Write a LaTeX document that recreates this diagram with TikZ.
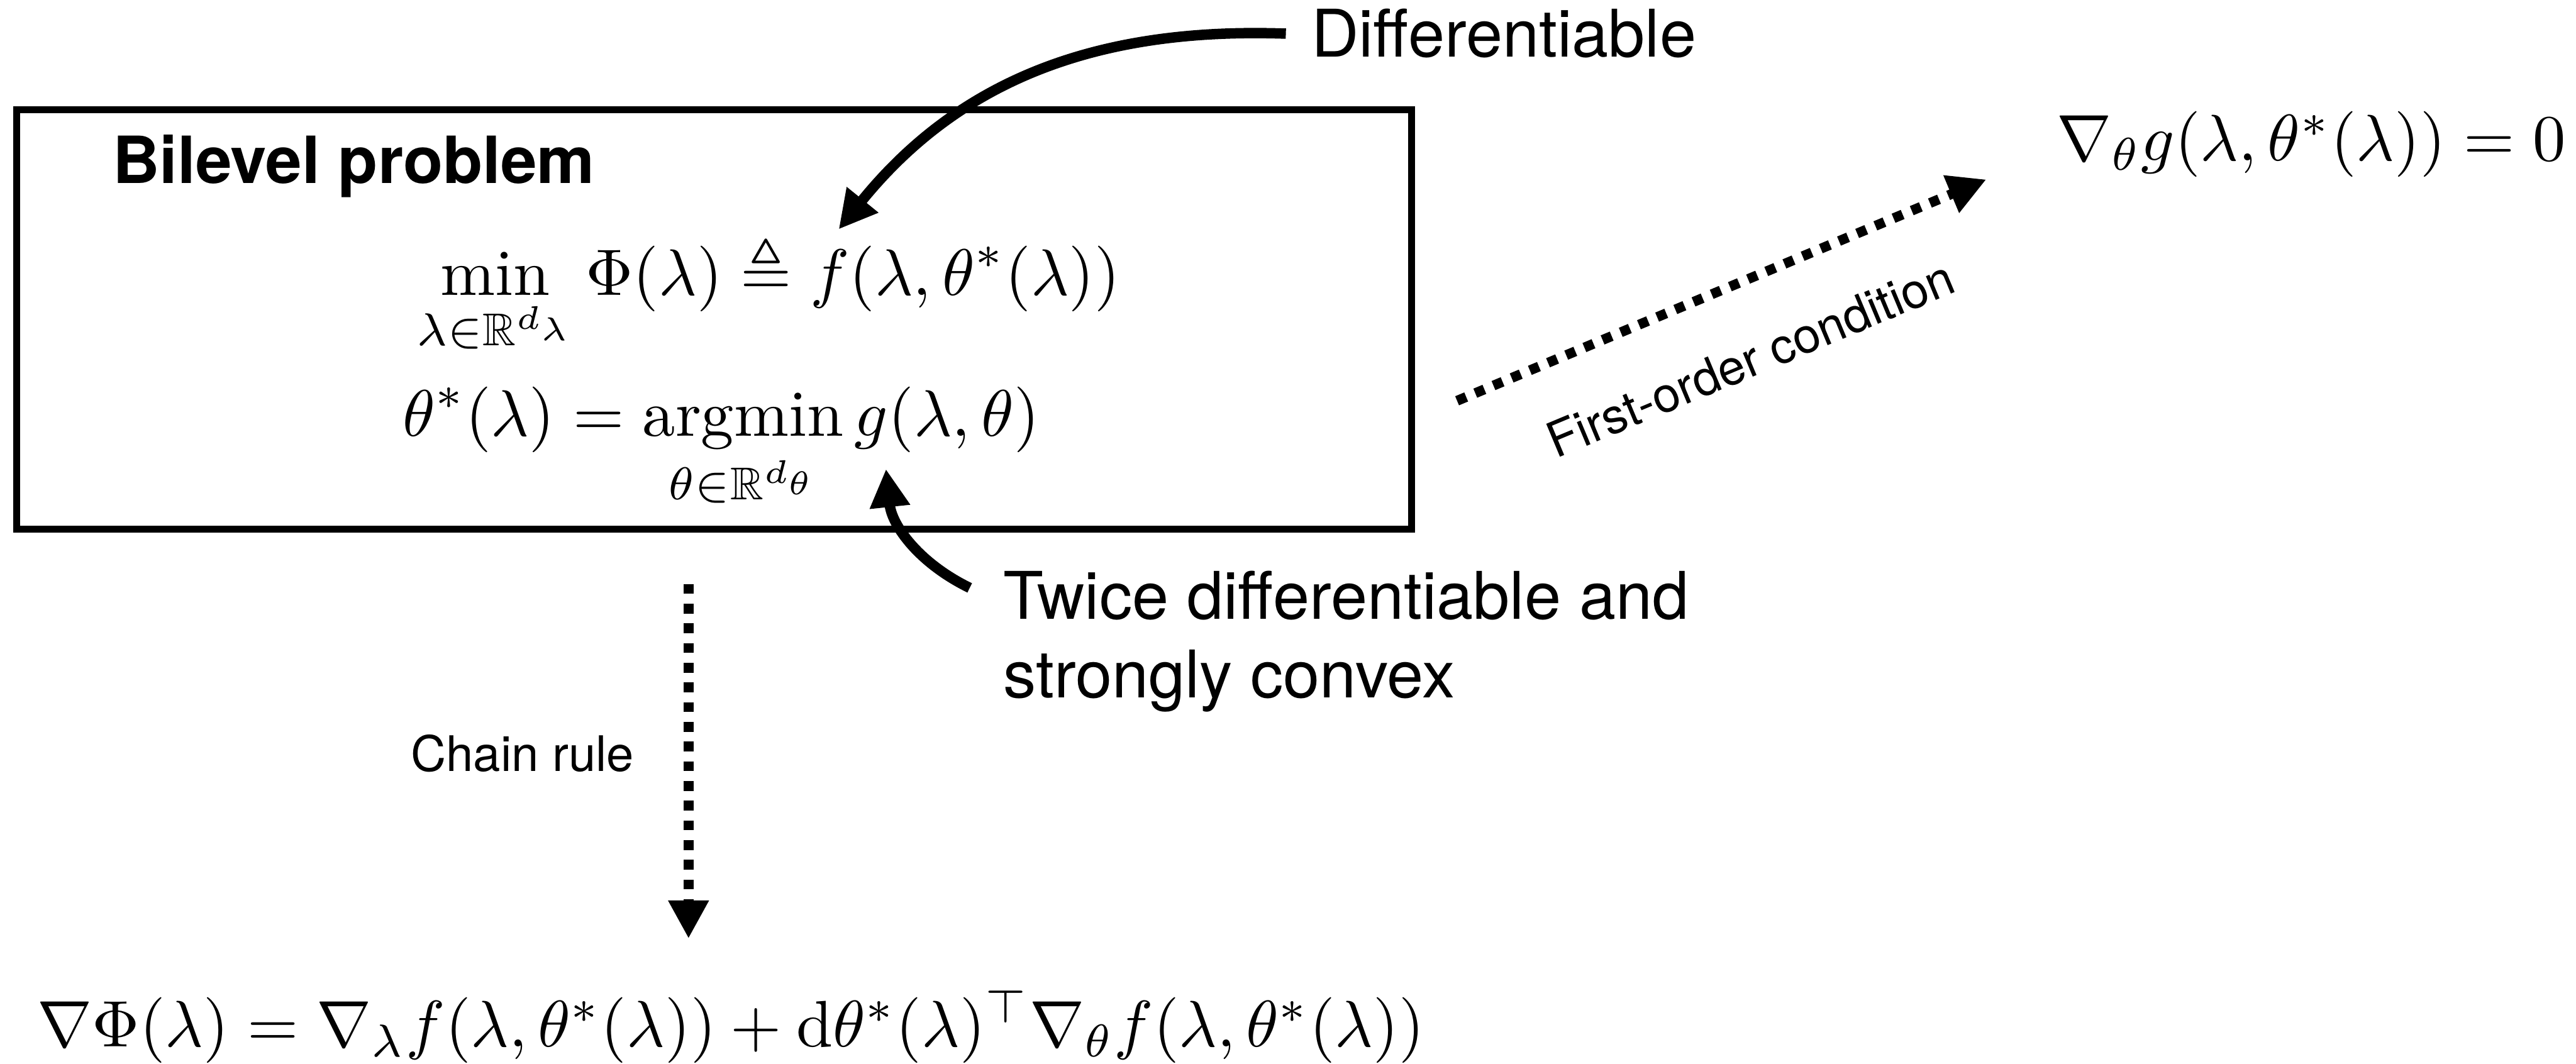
\documentclass[tikz,border=0pt]{standalone}
\usepackage{amsmath,amssymb}
\usepackage{fontspec}
\setsansfont{TeX Gyre Heros}
\usepackage{tikz}
\usetikzlibrary{arrows.meta, positioning, calc}

\begin{document}
\begin{tikzpicture}[
    probbox/.style={rectangle, draw=black, line width=1.07pt, minimum width=7.461cm, minimum height=2.246cm, inner sep=0pt},
    heading/.style={inner sep=0pt, anchor=base west, font=\sffamily\bfseries\fontsize{9.9}{11.9}\selectfont},
    caption/.style={inner sep=0pt, anchor=base west, font=\sffamily\fontsize{10}{12}\selectfont},
    note/.style={inner sep=0pt, font=\sffamily\fontsize{7.45}{9}\selectfont},
    eqn/.style={inner sep=0pt, anchor=base west},
    curvearrow/.style={line width=1.58pt, -{Triangle[length=5.8pt, width=5.8pt]}},
    dotarrow/.style={line width=1.5pt, dash pattern=on 1.5pt off 1.5pt, -{Triangle[length=5.8pt, width=5.8pt]}}
]

\useasboundingbox (0,0) rectangle (13.779,-5.690);

% Nodes
\node (bilevel) [probbox] at (3.820,-1.709) {};

\node (heading) [heading] at (0.596,-0.980) {Bilevel problem};

\node (upper) [eqn] at (2.220,-1.579) {$\displaystyle\min_{\lambda\in\mathbb{R}^{d_\lambda}} \Phi(\lambda)\triangleq f(\lambda,\theta^*(\lambda))$};

\node (lower) [eqn] at (2.147,-2.332) {$\displaystyle\theta^*(\lambda)=\operatorname*{argmin}_{\theta\in\mathbb{R}^{d_\theta}} g(\lambda,\theta)$};

\node (cond) [eqn] at (10.994,-0.858) {$\nabla_\theta g(\lambda,\theta^*(\lambda))=0$};

\node (total) [eqn] at (0.194,-5.600) {$\nabla\Phi(\lambda)=\nabla_\lambda f(\lambda,\theta^*(\lambda))+\mathrm{d}\theta^*(\lambda)^\top\nabla_\theta f(\lambda,\theta^*(\lambda))$};

\node (diff) [caption] at (7.007,-0.306) {Differentiable};

\node (twice) [caption] at (5.360,-3.312) {Twice differentiable and};

\node (convex) [caption] at ([yshift=-0.421cm]twice.base west) {strongly convex};

% Arrow ends
\coordinate (ftip) at (4.486,-1.227);
\coordinate (gtip) at (4.739,-2.509);
\coordinate (chaintop) at (3.683,-3.124);
\coordinate (chainend) at (3.683,-5.021);
\coordinate (focstart) at (7.794,-2.144);
\coordinate (focend) at (10.625,-0.960);

% Arrows
\draw [curvearrow] ([xshift=-0.129cm]diff.west) to[out=178, in=51] (ftip);
\draw [curvearrow] ([shift={(-0.173,0.041)}]twice.west) to[out=154, in=-84] (gtip);
\draw [dotarrow] (chaintop) -- node[note, anchor=east, xshift=-0.265cm, yshift=0.041cm] (chainlbl) {Chain rule} (chainend);
\draw [dotarrow] (focstart) -- node[note, midway, sloped, below=0.275cm] (foclbl) {First-order condition} (focend);

\end{tikzpicture}
\end{document}
